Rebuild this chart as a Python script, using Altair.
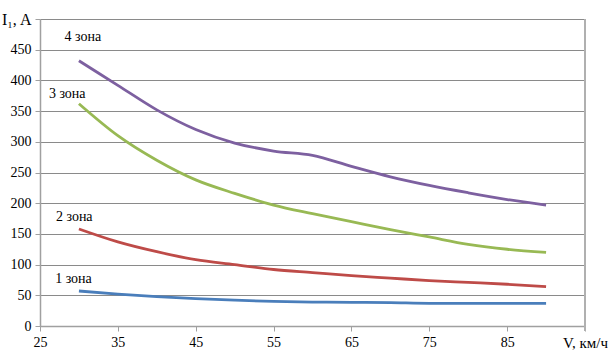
import altair as alt
import pandas as pd

speed = [30, 35, 40, 45, 50, 55, 60, 65, 70, 75, 80, 85, 90]
zone1 = [57, 52, 48, 44.5, 42, 40, 39, 38.5, 38, 37, 37, 37, 37]
zone2 = [158, 137, 121, 108, 100, 92, 87, 82, 78, 74, 71, 68, 64]
zone3 = [362, 310, 270, 238, 216, 197, 183, 170, 157, 145, 133, 125, 120]
zone4 = [432, 392, 352, 320, 298, 285, 278, 260, 243, 229, 217, 206, 197]

series_names = ["1 зона", "2 зона", "3 зона", "4 зона"]
series_colors = ["#4A7EBB", "#BE4B48", "#98B954", "#7D60A0"]
label_x = [29.3, 29.4, 28.5, 30.5]
label_y = [77, 177, 378, 470]
x_ticks = [25, 35, 45, 55, 65, 75, 85, 95]
y_ticks = [0, 50, 100, 150, 200, 250, 300, 350, 400, 450, 500]

rows = []
for name, vals in zip(series_names, [zone1, zone2, zone3, zone4]):
    for v, i in zip(speed, vals):
        rows.append({"V": v, "I": i, "zone": name})
df = pd.DataFrame(rows)
labels = pd.DataFrame({"zone": series_names, "V": label_x, "I": label_y})

FONT = "'Times New Roman', 'Liberation Serif', serif"
xs = alt.Scale(domain=[25, 95], nice=False, zero=False)
ys = alt.Scale(domain=[0, 500], nice=False)

x_axis = alt.Axis(
    values=x_ticks, title=None, grid=False,
    labelExpr="datum.value == 95 ? 'V, км/ч' : datum.label",
    labelFontSize={"condition": {"test": "datum.value == 95", "value": 15}, "value": 14},
    labelFont=FONT, labelColor="#000000", labelPadding=4, labelOverlap=False,
    labelBound=False, labelFlush=False,
    tickSize=5, tickColor="#a0a0a0", domainColor="#a0a0a0", domainWidth=1.5,
)
y_axis = alt.Axis(
    values=y_ticks, title=None, grid=True,
    gridColor="#8a8a8a", gridWidth=1.2,
    labelExpr="datum.value == 500 ? 'I₁, A' : datum.label",
    labelFontSize={"condition": {"test": "datum.value == 500", "value": 16}, "value": 14},
    labelFont=FONT, labelColor="#000000", labelPadding=4, labelOverlap=False,
    labelBound=False, labelFlush=False,
    tickSize=5, tickColor="#a0a0a0", domainColor="#a0a0a0", domainWidth=1.5,
)

lines = alt.Chart(df).mark_line(strokeWidth=2.8, interpolate="monotone").encode(
    x=alt.X("V:Q", scale=xs, axis=x_axis),
    y=alt.Y("I:Q", scale=ys, axis=y_axis),
    color=alt.Color("zone:N", scale=alt.Scale(domain=series_names, range=series_colors), legend=None),
)

edge = alt.Chart(pd.DataFrame({"V": [95]})).mark_rule(color="#b0b0b0", strokeWidth=2).encode(
    x=alt.X("V:Q", scale=xs, axis=x_axis), y=alt.value(0), y2=alt.value(312)
)

texts = alt.Chart(labels).mark_text(font=FONT, fontSize=14, color="#000000").encode(
    x=alt.X("V:Q", scale=xs, axis=x_axis), y=alt.Y("I:Q", scale=ys, axis=y_axis), text="zone:N"
)

chart = alt.layer(lines, edge, texts).properties(
    width=545, height=307,
    padding={"left": 40, "top": 19, "right": 23, "bottom": 34},
    autosize=alt.AutoSizeParams(type="none"),
).configure_view(stroke=None).configure(background="#ffffff")

chart.save("out.html", embed_options={"renderer": "svg", "actions": False})
